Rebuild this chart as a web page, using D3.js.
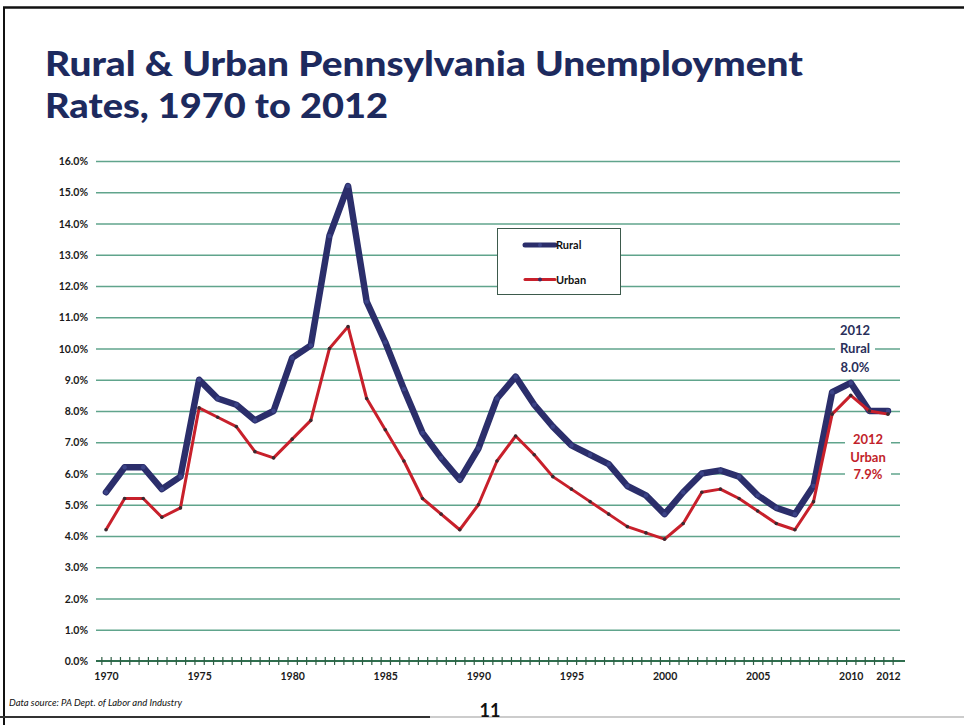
<!DOCTYPE html>
<html>
<head>
<meta charset="utf-8">
<script src="https://cdn.jsdelivr.net/npm/d3@7/dist/d3.min.js"></script>
<style>
  html, body { margin: 0; padding: 0; background: #fff; }
  svg { display: block; }
</style>
</head>
<body>
<svg id="chart" width="964" height="725"></svg>
<script>
const years = d3.range(1970, 2013);
const rural = [5.4,6.2,6.2,5.5,5.9,9.0,8.4,8.2,7.7,8.0,
               9.7,10.1,13.6,15.2,11.5,10.2,8.7,7.3,6.5,5.8,
               6.8,8.4,9.1,8.2,7.5,6.9,6.6,6.3,5.6,5.3,
               4.7,5.4,6.0,6.1,5.9,5.3,4.9,4.7,5.6,8.6,
               8.9,8.0,8.0];
const urban = [4.2,5.2,5.2,4.6,4.9,8.1,7.8,7.5,6.7,6.5,
               7.1,7.7,10.0,10.7,8.4,7.4,6.4,5.2,4.7,4.2,
               5.0,6.4,7.2,6.6,5.9,5.5,5.1,4.7,4.3,4.1,
               3.9,4.4,5.4,5.5,5.2,4.8,4.4,4.2,5.1,7.9,
               8.5,8.0,7.9];
const yTicks = d3.range(0, 17, 1);
const xLabels = [1970,1975,1980,1985,1990,1995,2000,2005,2010,2012];
const seriesNames = ["Rural", "Urban"];
const titleLines = ["Rural & Urban Pennsylvania Unemployment", "Rates, 1970 to 2012"];

const NAVY = "#2b2e6b", RED = "#c8202b", GRID = "#4f9a80", TITLE = "#1d2a5e";

const svg = d3.select("#chart");
const x = d3.scaleLinear().domain([1970, 2012]).range([106, 888]);
const y = d3.scaleLinear().domain([0, 16]).range([661, 161]);

// frame
svg.append("line").attr("x1", 3).attr("x2", 964).attr("y1", 7.5).attr("y2", 7.5).attr("stroke", "#111").attr("stroke-width", 2.5);
svg.append("line").attr("x1", 4).attr("x2", 4).attr("y1", 7).attr("y2", 725).attr("stroke", "#111").attr("stroke-width", 2);
svg.append("line").attr("x1", 0).attr("x2", 430).attr("y1", 717).attr("y2", 717).attr("stroke", "#333").attr("stroke-width", 2);
svg.append("line").attr("x1", 430).attr("x2", 964).attr("y1", 717).attr("y2", 717).attr("stroke", "#bbb").attr("stroke-width", 1.5);

// title
const tWidths = [758, 343];
titleLines.forEach((t, i) => {
  svg.append("text").attr("x", 45).attr("y", 76 + i * 42)
    .attr("font-family", "Lato, 'Open Sans', sans-serif").attr("font-weight", 900)
    .attr("font-size", 34).attr("fill", TITLE)
    .attr("textLength", tWidths[i]).attr("lengthAdjust", "spacingAndGlyphs")
    .text(t);
});

// gridlines
const grid = d3.axisLeft(y).tickValues(yTicks.filter(d => d > 0)).tickSize(-(900 - 96)).tickFormat("");
svg.append("g").attr("transform", "translate(96,0)").call(grid)
  .call(g => g.select(".domain").remove())
  .call(g => g.selectAll("line").attr("stroke", GRID).attr("stroke-width", 1.4).attr("opacity", 0.9));

// y labels
const yAxis = d3.axisLeft(y).tickValues(yTicks).tickSize(0).tickPadding(0).tickFormat(d => d.toFixed(1) + "%");
svg.append("g").attr("transform", "translate(88,0)").call(yAxis)
  .call(g => g.select(".domain").remove())
  .call(g => g.selectAll("text").attr("font-family", "'Liberation Sans Narrow', Lato, sans-serif")
     .attr("font-weight", "bold").attr("font-size", 10.5).attr("fill", "#1a1a1a").attr("dy", "0.35em"));

// x axis line with crossing ticks
const minor = d3.range(1969.75, 2012.3, 0.5);
const xAxisG = svg.append("g").attr("transform", `translate(0,${y(0)})`);
xAxisG.call(d3.axisBottom(x).tickValues(minor).tickSize(4).tickFormat(""))
  .call(g => g.select(".domain").attr("d", "M96,0H905").attr("stroke", "#2f6e4e").attr("stroke-width", 2))
  .call(g => g.selectAll(".tick line").attr("y1", -4).attr("y2", 4).attr("stroke", "#2f5e45").attr("stroke-width", 1.2));

// x labels
const xLab = svg.append("g").attr("transform", `translate(0,${y(0)})`);
xLab.call(d3.axisBottom(x).tickValues(xLabels).tickSize(0).tickPadding(12).tickFormat(d3.format("d")))
  .call(g => g.select(".domain").remove())
  .call(g => g.selectAll("text").attr("font-family", "'Liberation Sans Narrow', Lato, sans-serif")
    .attr("font-weight", "bold").attr("font-size", 10.5).attr("fill", "#1a1a1a"));

// annotation backgrounds
svg.append("rect").attr("x", 835).attr("y", 320).attr("width", 40).attr("height", 52).attr("fill", "#fff");
svg.append("rect").attr("x", 845).attr("y", 428).attr("width", 46).attr("height", 52).attr("fill", "#fff");

// lines
const line = d3.line().x((d, i) => x(years[i])).y(d => y(d)).curve(d3.curveLinear);
svg.append("path").datum(rural).attr("d", line).attr("fill", "none")
  .attr("stroke", NAVY).attr("stroke-width", 6.5).attr("stroke-linejoin", "round").attr("stroke-linecap", "round");
svg.append("g").selectAll("circle").data(rural).join("circle")
  .attr("cx", (d, i) => x(years[i])).attr("cy", d => y(d)).attr("r", 2.2).attr("fill", "#3c4488");
svg.append("path").datum(urban).attr("d", line).attr("fill", "none")
  .attr("stroke", RED).attr("stroke-width", 3).attr("stroke-linejoin", "round");
svg.append("g").selectAll("circle").data(urban).join("circle")
  .attr("cx", (d, i) => x(years[i])).attr("cy", d => y(d)).attr("r", 1.8).attr("fill", "#3a2a30");

// legend
const lg = svg.append("g");
lg.append("rect").attr("x", 497.5).attr("y", 228.5).attr("width", 123).attr("height", 66)
  .attr("fill", "#fff").attr("stroke", "#3d5a4c").attr("stroke-width", 1);
const legendColors = [NAVY, RED];
seriesNames.forEach((n, i) => {
  const ly = 245 + i * 34.5;
  lg.append("line").attr("x1", 525).attr("x2", 555).attr("y1", ly).attr("y2", ly)
    .attr("stroke", legendColors[i]).attr("stroke-width", i === 0 ? 5 : 3).attr("stroke-linecap", "round");
  lg.append("circle").attr("cx", 540).attr("cy", ly).attr("r", 2).attr("fill", i === 0 ? "#3c4488" : "#3a2a60");
  lg.append("text").attr("x", 556).attr("y", ly + 4).attr("font-family", "Lato, sans-serif")
    .attr("font-weight", "bold").attr("font-size", 11).attr("fill", "#111").text(n);
});

// annotations
const annR = ["2012", "Rural", "8.0%"];
annR.forEach((t, i) => svg.append("text").attr("x", 855).attr("y", 335 + i * 18.3).attr("text-anchor", "middle")
  .attr("font-family", "Lato, 'Open Sans', sans-serif").attr("font-weight", "bold").attr("font-size", 13)
  .attr("fill", "#2a2f5a").text(t));
const annU = ["2012", "Urban", "7.9%"];
annU.forEach((t, i) => svg.append("text").attr("x", 868).attr("y", 444 + i * 17.7).attr("text-anchor", "middle")
  .attr("font-family", "Lato, 'Open Sans', sans-serif").attr("font-weight", "bold").attr("font-size", 13)
  .attr("fill", "#c21f2b").text(t));

// footer
svg.append("text").attr("x", 9).attr("y", 706).attr("font-family", "'Liberation Sans Narrow', Lato, sans-serif")
  .attr("font-style", "italic").attr("font-size", 9.5).attr("fill", "#111")
  .text("Data source: PA Dept. of Labor and Industry");
svg.append("text").attr("x", 490).attr("y", 717).attr("text-anchor", "middle")
  .attr("font-family", "Lato, sans-serif").attr("font-weight", "bold").attr("font-size", 18).attr("fill", "#111").text("11");
</script>
</body>
</html>
